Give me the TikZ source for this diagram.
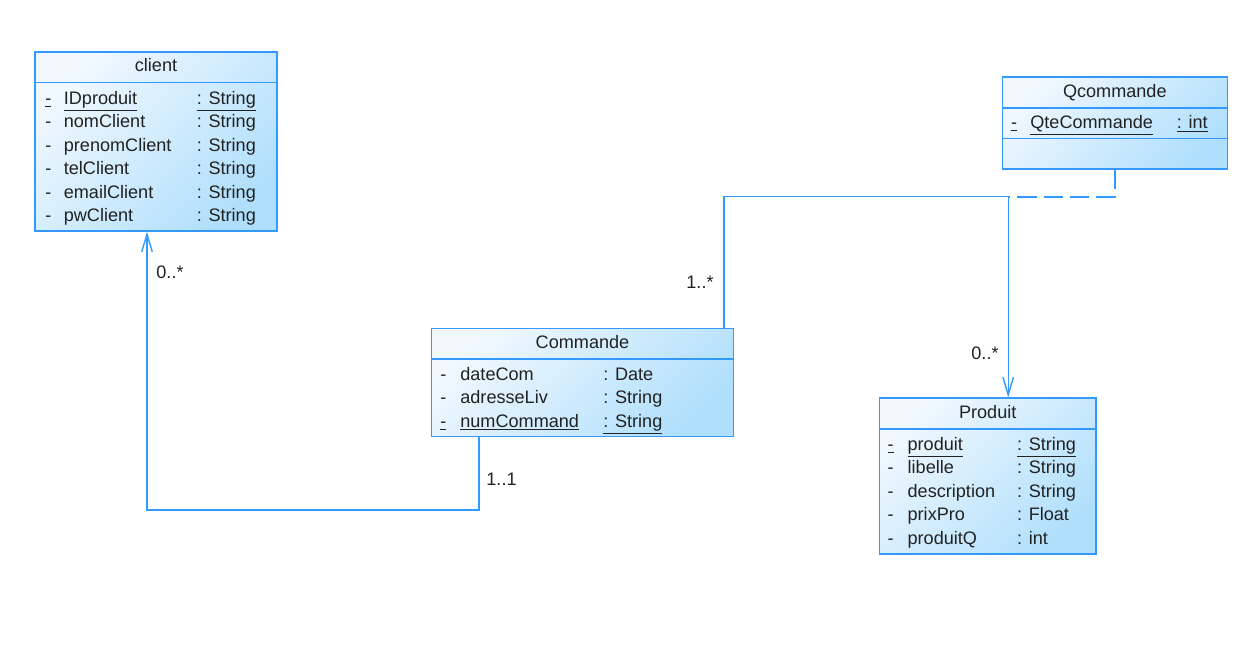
\documentclass[tikz,border=0pt]{standalone}
\usepackage{fontspec}
\setmainfont{Liberation Sans}
\usetikzlibrary{positioning, arrows.meta}
\definecolor{umlline}{RGB}{51,153,255}
\definecolor{umltop}{RGB}{240,248,254}
\definecolor{umlbottom}{RGB}{176,223,252}
\definecolor{umltext}{RGB}{34,34,34}

\begin{document}
\begin{tikzpicture}[x=0.02cm, y=-0.02cm,
    font=\fontsize{10.3}{12}\selectfont, text=umltext,
    classbox/.style={draw=umlline, line width=0.8pt, top color=umltop, bottom color=umlbottom, shading angle=45, inner sep=0},
    sep/.style={draw=umlline, line width=0.8pt},
    attr/.style={anchor=base west, inner sep=0},
    title/.style={anchor=base, inner sep=0},
    mult/.style={anchor=base, inner sep=0},
    assoc/.style={draw=umlline, line width=0.8pt, -{Straight Barb[length=10pt, width=6pt]}},
    link/.style={draw=umlline, line width=0.8pt, dash pattern=on 11pt off 4pt}]
    \fill [white] (0,0) rectangle (1235,647);
    \useasboundingbox (0,0) rectangle (1235,647);
    % client
    \node (client) [classbox, minimum width=4.84cm, minimum height=3.58cm] at (156,141.5) {};
    \draw [sep] (35,82.5) -- (277,82.5);
    \node (client-title) [title] at (156,71.7) {client};
    \node (cl-d0) [attr] at (45,104.3) {\underline{-}};
    \node (cl-n0) [attr] at (63.5,104.3) {\underline{IDproduit}};
    \node (cl-t0) [attr] at (196.5,104.3) {\underline{: String}};
    \foreach \nm [count=\i] in {nomClient, prenomClient, telClient, emailClient, pwClient} {
        \node (cl-d\i) [attr] at (45,104.3+23.5*\i) {-};
        \node (cl-n\i) [attr] at (63.5,104.3+23.5*\i) {\nm};
        \node (cl-t\i) [attr] at (196.5,104.3+23.5*\i) {: String};
    }
    % Qcommande
    \node (qcommande) [classbox, minimum width=4.5cm, minimum height=1.84cm] at (1114.8,123) {};
    \draw [sep] (1002.3,108) -- (1227.3,108);
    \draw [sep] (1002.3,138.3) -- (1227.3,138.3);
    \node (qcommande-title) [title] at (1114.8,97.3) {Qcommande};
    \node (qc-d0) [attr] at (1010.7,128.3) {\underline{-}};
    \node (qc-n0) [attr] at (1030,128.3) {\underline{QteCommande}};
    \node (qc-t0) [attr] at (1176.5,128.3) {\underline{: int}};
    % Commande
    \node (commande) [classbox, minimum width=6.03cm, minimum height=2.17cm] at (582.5,382.5) {};
    \draw [sep] (431.7,359) -- (733.3,359);
    \node (commande-title) [title] at (582.5,348.3) {Commande};
    \foreach \nm/\ty [count=\i from 0] in {dateCom/Date, adresseLiv/String} {
        \node (co-d\i) [attr] at (440,380+23.5*\i) {-};
        \node (co-n\i) [attr] at (460,380+23.5*\i) {\nm};
        \node (co-t\i) [attr] at (603,380+23.5*\i) {: \ty};
    }
    \node (co-d2) [attr] at (440,427) {\underline{-}};
    \node (co-n2) [attr] at (460,427) {\underline{numCommand}};
    \node (co-t2) [attr] at (603,427) {\underline{: String}};
    % Produit
    \node (produit) [classbox, minimum width=4.34cm, minimum height=3.12cm] at (987.7,475.9) {};
    \draw [sep] (879.3,429) -- (1096,429);
    \node (produit-title) [title] at (987.7,418.3) {Produit};
    \node (pr-d0) [attr] at (887.3,450) {\underline{-}};
    \node (pr-n0) [attr] at (907.3,450) {\underline{produit}};
    \node (pr-t0) [attr] at (1016.7,450) {\underline{: String}};
    \foreach \nm/\ty [count=\i] in {libelle/String, description/String, prixPro/Float, produitQ/int} {
        \node (pr-d\i) [attr] at (887.3,450+23.5*\i) {-};
        \node (pr-n\i) [attr] at (907.3,450+23.5*\i) {\nm};
        \node (pr-t\i) [attr] at (1016.7,450+23.5*\i) {: \ty};
    }
    % Associations
    \draw [assoc] ([xshift=-2.07cm]commande.south) -- ++(0,72.5) -| ([xshift=-0.18cm]client.south);
    \node (m-11) [mult] at (501.5,485) {1..1};
    \node (m-0c) [mult] at (170,278) {0..*};
    \draw [assoc] ([xshift=-0.2cm]commande.north east) -- ++(0,-131.3) -| ([xshift=0.41cm]produit.north);
    \node (m-1p) [mult] at (700,288.3) {1..*};
    \node (m-0p) [mult] at (985,359.3) {0..*};
    % Association class link
    \coordinate (qjoin) at (1008.3,197);
    \draw [link] (qcommande.south) |- (qjoin);
\end{tikzpicture}
\end{document}
